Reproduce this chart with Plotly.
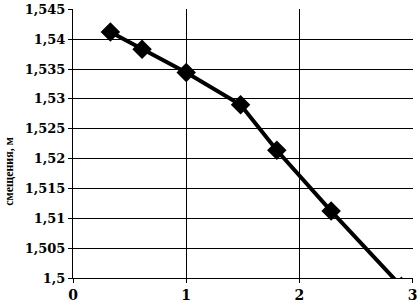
import plotly.graph_objects as go

x_vals = [0.33, 0.61, 1.0, 1.48, 1.80, 2.28, 2.9]
y_vals = [1.5412, 1.5383, 1.5344, 1.5290, 1.5214, 1.5112, 1.4986]

y_tickvals = [1.5, 1.505, 1.51, 1.515, 1.52, 1.525, 1.53, 1.535, 1.54, 1.545]
y_ticktext = ["1,5", "1,505", "1,51", "1,515", "1,52", "1,525", "1,53", "1,535", "1,54", "1,545"]
x_tickvals = [0, 1, 2, 3]
x_ticktext = ["0", "1", "2", "3"]
y_title = "смещения, м"

font_family = "DejaVu Serif"

fig = go.Figure()
fig.add_trace(go.Scatter(
    x=x_vals, y=y_vals, mode="lines+markers",
    line=dict(color="black", width=4),
    marker=dict(symbol="diamond", size=15, color="black"),
    cliponaxis=True, showlegend=False,
))

fig.update_layout(
    width=420, height=305,
    margin=dict(l=73, r=2, t=5, b=27),
    paper_bgcolor="white", plot_bgcolor="white",
    font=dict(family=font_family, size=13, color="black"),
    xaxis=dict(
        range=[0, 3.003], tickvals=x_tickvals, ticktext=x_ticktext,
        showgrid=True, gridcolor="black", gridwidth=1,
        showline=True, linecolor="black", linewidth=1,
        ticks="outside", ticklen=4, tickcolor="black",
        zeroline=False, ticklabeloverflow="allow",
        tickfont=dict(family=font_family, size=14, color="black", weight="bold"),
    ),
    yaxis=dict(
        range=[1.5, 1.54505], tickvals=y_tickvals, ticktext=y_ticktext,
        showgrid=True, gridcolor="black", gridwidth=1,
        showline=True, linecolor="black", linewidth=1,
        ticks="outside", ticklen=4, tickcolor="black",
        zeroline=False, ticklabeloverflow="allow",
        tickfont=dict(family=font_family, size=13, color="black", weight="bold"),
    ),
    annotations=[dict(
        text=y_title, textangle=-90, xref="paper", yref="paper",
        x=-0.188, y=0.395, xanchor="center", yanchor="middle", showarrow=False,
        font=dict(family="Liberation Serif", size=12, color="black", weight="bold"),
    )],
)

fig.write_html("out.html", config={"displayModeBar": False},
               post_script="document.body.style.margin='0';")
